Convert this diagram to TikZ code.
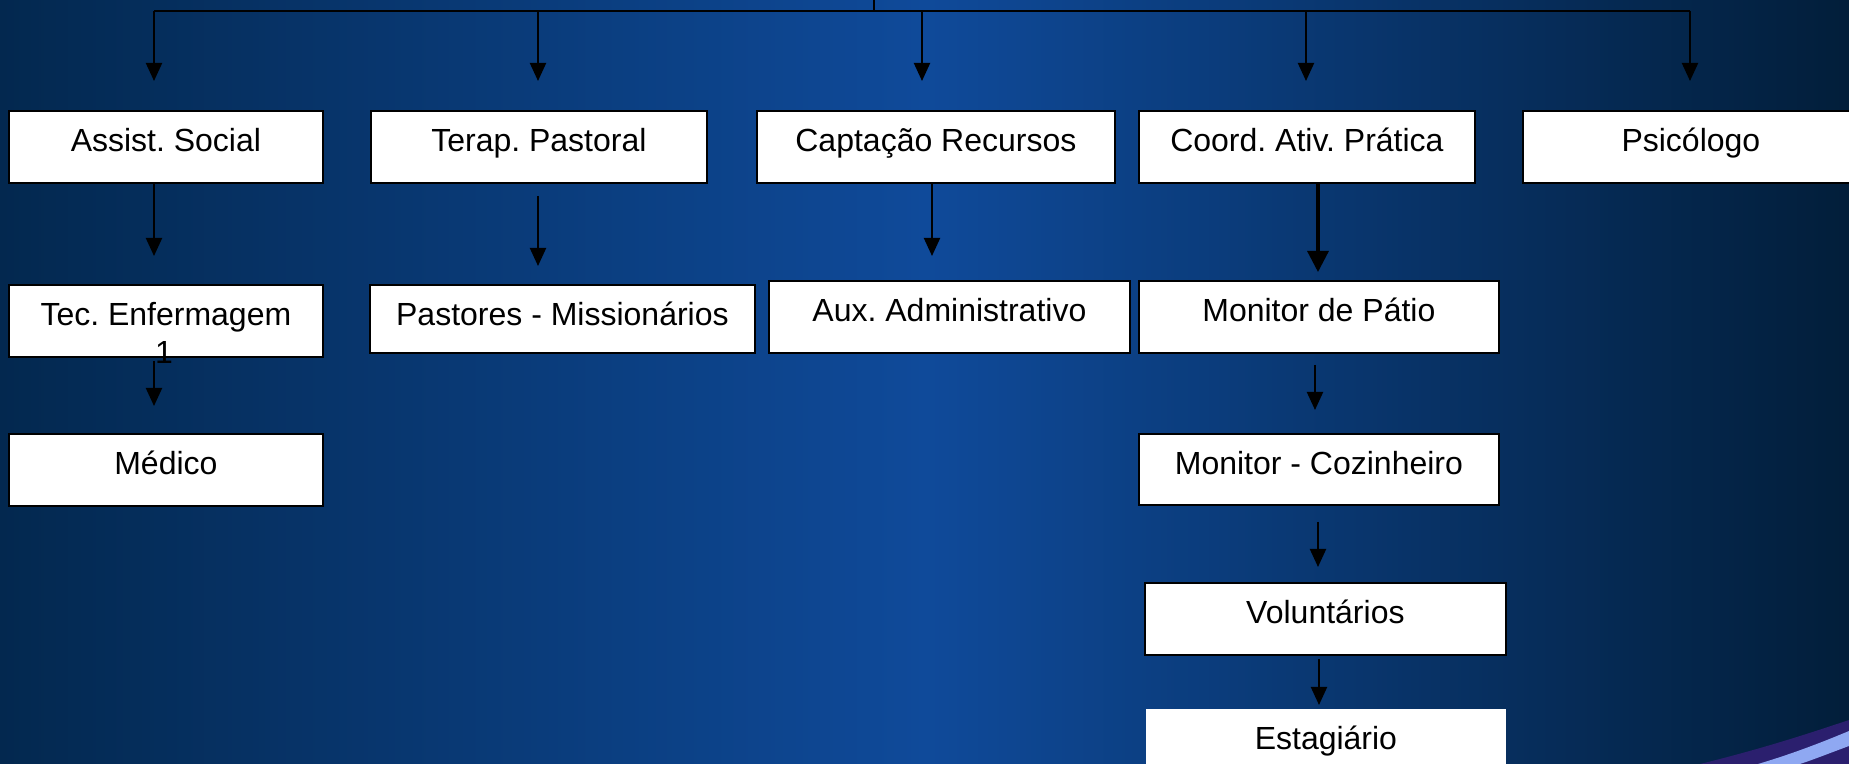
\documentclass[tikz,border=0pt]{standalone}
\usepackage{fontspec}
\setmainfont{Liberation Sans}
\usetikzlibrary{arrows.meta}
\frenchspacing
\definecolor{bgL}{HTML}{03284F}
\definecolor{bgM}{HTML}{0F4A9A}
\definecolor{bgR}{HTML}{021E3A}
\definecolor{swdark}{HTML}{2B1F6E}
\definecolor{swlight}{HTML}{8FA8F2}
\tikzset{
  box/.style={draw=black, line width=0.9pt, fill=white, inner sep=0pt, anchor=north west,
    minimum height=36pt, text height=11.5pt, text depth=6.5pt,
    font=\fontsize{16}{19.5}\selectfont},
  plainbox/.style={box, draw=none},
  conn/.style={draw=black, line width=1pt},
  arr/.style={conn, -{Triangle[width=8pt,length=9pt]}},
  thickarr/.style={draw=black, line width=1.6pt, -{Triangle[width=10.5pt,length=10.5pt]}}
}
\begin{document}
\begin{tikzpicture}[x=0.5pt, y=-0.5pt]
\useasboundingbox (0,0) rectangle (1849,764);
\clip (0,0) rectangle (1849,764);
\fill[left color=bgL, right color=bgR, middle color=bgM] (0,0) rectangle (1849,764);
% swoosh
\fill[swdark] (1700,764) .. controls (1765,748) and (1810,733) .. (1849,720) -- (1849,764) -- cycle;
\fill[swlight] (1758,764) .. controls (1795,753) and (1825,741) .. (1849,731) -- (1849,746) .. controls (1830,753) and (1815,759) .. (1800,764) -- cycle;

% top level
\node[box, minimum width=157pt] (assist) at (8,110) {Assist. Social};
\node[box, minimum width=168pt] (terap) at (370,110) {Terap. Pastoral};
\node[box, minimum width=179pt] (capt) at (756,110) {Captação Recursos};
\node[box, minimum width=168pt] (coord) at (1138,110) {Coord. Ativ. Prática};
\node[box, minimum width=168pt] (psic) at (1522,110) {Psicólogo};

% lower levels
\node[box, minimum width=157pt] (tec) at (8,284) {Tec. Enfermagem};
\node[anchor=base, inner sep=0pt, font=\fontsize{16}{19.5}\selectfont] (tecnum) at (164,364) {1};
\node[box, minimum width=157pt] (medico) at (8,433) {Médico};
\node[box, minimum width=192.5pt, minimum height=34pt, text depth=4.5pt] (past) at (369,284) {Pastores - Missionários};
\node[box, minimum width=180.5pt] (aux) at (768,280) {Aux. Administrativo};
\node[box, minimum width=180pt] (patio) at (1138,280) {Monitor de Pátio};
\node[box, minimum width=180pt, minimum height=35.5pt] (coz) at (1138,433) {Monitor - Cozinheiro};
\node[box, minimum width=180.5pt] (vol) at (1144,582) {Voluntários};
\node[plainbox, minimum width=180pt] (est) at (1145,708) {Estagiário};

% top bar
\coordinate (stem) at (874,0);
\coordinate (barmid) at (874,11);
\coordinate (b1) at (154,11);
\coordinate (b2) at (538,11);
\coordinate (b3) at (922,11);
\coordinate (b4) at (1306,11);
\coordinate (b5) at (1690,11);
\draw[conn] (stem) -- (barmid);
\draw[conn] (b1) -- (b5);
\draw[arr, shorten >=14.5pt] (b1) -- (b1 |- assist.north);
\draw[arr, shorten >=14.5pt] (b2) -- (b2 |- terap.north);
\draw[arr, shorten >=14.5pt] (b3) -- (b3 |- capt.north);
\draw[arr, shorten >=14.5pt] (b4) -- (b4 |- coord.north);
\draw[arr, shorten >=14.5pt] (b5) -- (b5 |- psic.north);

% column x positions
\coordinate (c1) at (154,0);
\coordinate (c2) at (538,0);
\coordinate (c3) at (932,0);
\coordinate (c4) at (1318,0);
\coordinate (c4b) at (1315,0);
\coordinate (c4c) at (1319,0);

\draw[arr, shorten >=14pt] (c1 |- assist.south) -- (c1 |- tec.north);
\draw[arr, shorten <=1.5pt, shorten >=13.5pt] (c1 |- tec.south) -- (c1 |- medico.north);
\draw[arr, shorten <=6pt, shorten >=9pt] (c2 |- terap.south) -- (c2 |- past.north);
\draw[arr, shorten >=12pt] (c3 |- capt.south) -- (c3 |- aux.north);
\draw[thickarr, shorten >=4pt] (c4 |- coord.south) -- (c4 |- patio.north);
\draw[arr, shorten <=5.5pt, shorten >=11.5pt] (c4b |- patio.south) -- (c4b |- coz.north);
\draw[arr, shorten <=8pt, shorten >=7.5pt] (c4 |- coz.south) -- (c4 |- vol.north);
\draw[arr, shorten <=1.5pt, shorten >=1.5pt] (c4c |- vol.south) -- (c4c |- est.north);
\end{tikzpicture}
\end{document}
